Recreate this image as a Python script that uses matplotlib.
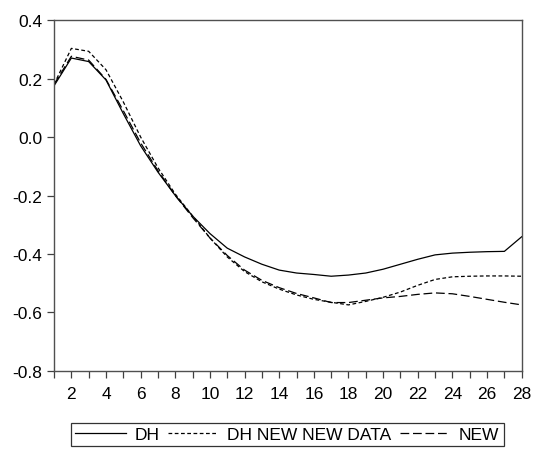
import numpy as np
import matplotlib
matplotlib.use("Agg")
import matplotlib.pyplot as plt

plt.rcParams['font.family'] = ['Liberation Sans', 'DejaVu Sans']
plt.rcParams['axes.unicode_minus'] = False

# data
periode = list(range(1, 29))
dh = [0.175, 0.27, 0.258, 0.195, 0.08, -0.03, -0.12, -0.20, -0.27, -0.33,
      -0.38, -0.41, -0.435, -0.455, -0.465, -0.47, -0.476, -0.472, -0.465, -0.452,
      -0.435, -0.418, -0.403, -0.397, -0.394, -0.392, -0.391, -0.341]
dh_new_new = [0.18, 0.303, 0.293, 0.23, 0.12, 0.0, -0.105, -0.195, -0.27, -0.345,
              -0.41, -0.46, -0.495, -0.52, -0.54, -0.555, -0.565, -0.574, -0.562, -0.548,
              -0.53, -0.507, -0.487, -0.478, -0.476, -0.475, -0.475, -0.476]
new = [0.18, 0.276, 0.263, 0.197, 0.09, -0.02, -0.115, -0.20, -0.275, -0.345,
       -0.405, -0.455, -0.49, -0.515, -0.535, -0.55, -0.566, -0.566, -0.558, -0.55,
       -0.545, -0.538, -0.533, -0.536, -0.545, -0.555, -0.565, -0.574]
y_ticks = [-0.8, -0.6, -0.4, -0.2, 0.0, 0.2, 0.4]
y_labels = ['-0.8', '-0.6', '-0.4', '-0.2', '0.0', '0.2', '0.4']

fig = plt.figure(figsize=(5.37, 4.52), dpi=100)
ax = fig.add_axes([0.1006, 0.177, 0.8709, 0.7765])

ax.plot(periode, dh, color='black', lw=0.9, label='DH')
ax.plot(periode, dh_new_new, color='black', lw=0.9, linestyle=(0, (3, 2)), label='DH NEW NEW DATA')
ax.plot(periode, new, color='black', lw=0.9, linestyle=(0, (7, 3)), label='NEW')

ax.set_xlim(1, 28)
ax.set_ylim(-0.8, 0.4)
ax.set_xticks(range(2, 29, 2))
ax.set_xticks(range(1, 29, 2), minor=True)
ax.set_yticks(y_ticks)
ax.set_yticklabels(y_labels)
ax.tick_params(axis='both', which='both', direction='out', length=5, width=0.9, labelsize=12.5, colors='#404040', labelcolor='black')
ax.tick_params(axis='x', pad=6)
for s in ax.spines.values():
    s.set_color('#505050')
    s.set_linewidth(1.0)

leg = fig.legend(loc='center', bbox_to_anchor=(0.535, 0.0365), ncol=3, fontsize=12.5,
                 handlelength=2.9, handletextpad=0.5, columnspacing=0.5,
                 fancybox=False, edgecolor='black', borderpad=0.25, borderaxespad=0)
leg.get_frame().set_linewidth(0.9)

fig.savefig('out.png', dpi=100)
